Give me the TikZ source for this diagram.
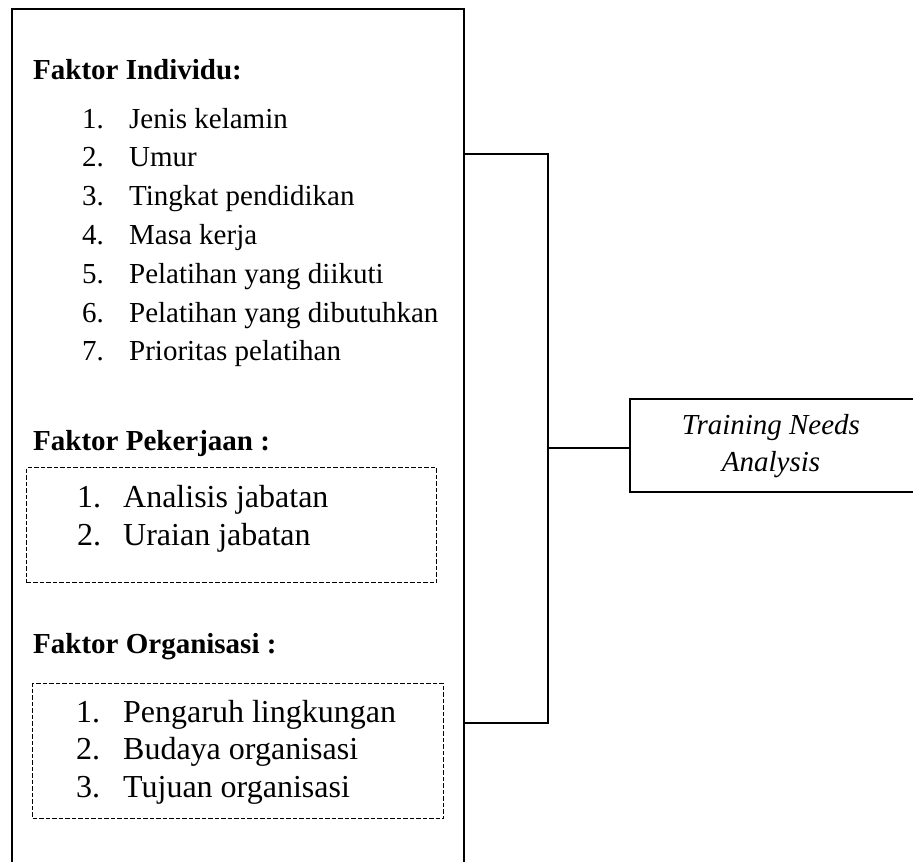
\documentclass[tikz,border=0pt]{standalone}
\usepackage{fontspec}
\setmainfont{Liberation Serif}
\usetikzlibrary{positioning}

\begin{document}
\begin{tikzpicture}[
        x=1pt, y=-1pt,
        outer/.style={rectangle, draw, line width=2.1pt, anchor=north west, minimum width=452pt, minimum height=900pt},
        group/.style={rectangle, draw, dash pattern=on 4.5pt off 2pt, line width=1.4pt, anchor=north west},
        heading/.style={anchor=base west, inner sep=0pt, font=\fontsize{29}{35}\selectfont\bfseries},
        item/.style={anchor=base west, inner sep=0pt, font=\fontsize{29}{35}\selectfont},
        bigitem/.style={anchor=base west, inner sep=0pt, font=\fontsize{32}{38}\selectfont},
        result/.style={rectangle, draw, line width=2.1pt, anchor=north west, minimum width=300pt, minimum height=93pt},
        line/.style={draw, line width=2.1pt}
    ]
        \clip (0,0) rectangle (913,862);

        \node [outer] (faktor) at (11,8) {};
        \node [result] (tna) at (629,398) {};
        \node [align=center, font=\fontsize{29}{37}\selectfont\itshape] (tnateks) at (771,446) {Training Needs\\Analysis};

        % faktor individu
        \node [heading] (individu) at (33,79) {Faktor Individu:};
        \foreach \teks [count=\i] in {Jenis kelamin, Umur, Tingkat pendidikan, Masa kerja, Pelatihan yang diikuti, Pelatihan yang dibutuhkan, Prioritas pelatihan}
            \node [item] (ind\i) at (82,{128+38.8*(\i-1)}) {\makebox[47pt][l]{\i.}\teks};

        % faktor pekerjaan
        \node [heading] (pekerjaan) at (33,450) {Faktor Pekerjaan :};
        \node [group, minimum width=410pt, minimum height=115pt] (kerjabox) at (26,467) {};
        \foreach \teks [count=\i] in {Analisis jabatan, Uraian jabatan}
            \node [bigitem] (ker\i) at (77,{507+38*(\i-1)}) {\makebox[46pt][l]{\i.}\teks};

        % faktor organisasi
        \node [heading] (organisasi) at (33,653) {Faktor Organisasi :};
        \node [group, minimum width=411pt, minimum height=135pt] (orgbox) at (32,683) {};
        \foreach \teks [count=\i] in {Pengaruh lingkungan, Budaya organisasi, Tujuan organisasi}
            \node [bigitem] (org\i) at (76,{722+37.5*(\i-1)}) {\makebox[47pt][l]{\i.}\teks};

        \coordinate (atas) at (463,154);
        \coordinate (bawah) at (463,723);
        \coordinate (simpul) at (548,448);
        \path [line] (atas) -| (simpul) |- (bawah);
        \path [line] (simpul) -- (simpul -| tna.west);
    \end{tikzpicture}
\end{document}
